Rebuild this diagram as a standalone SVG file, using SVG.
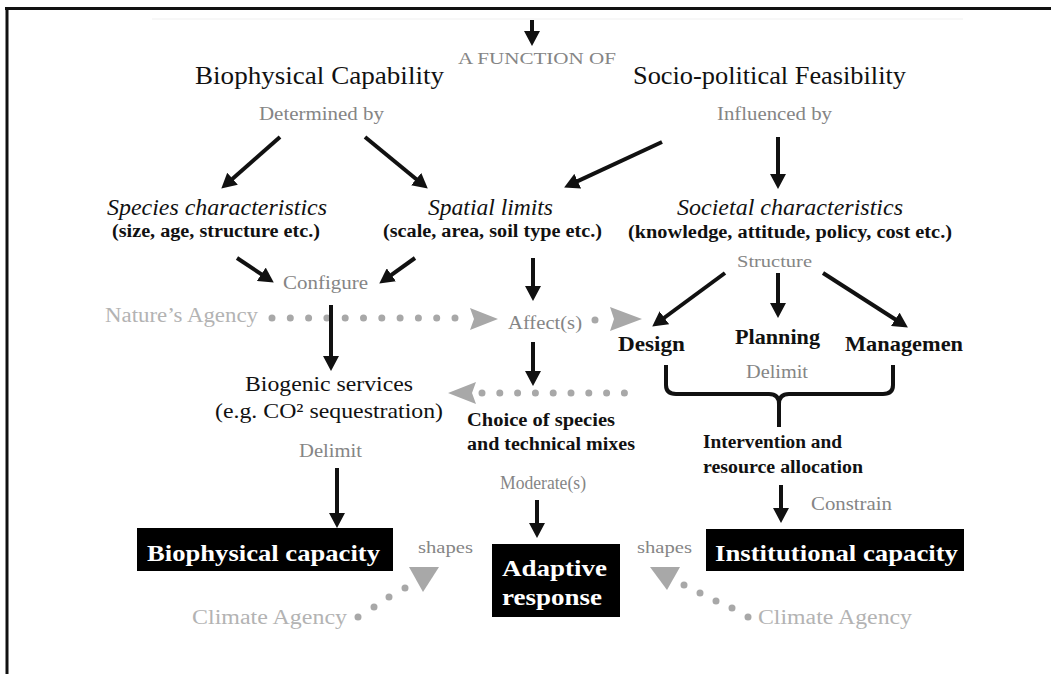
<svg xmlns="http://www.w3.org/2000/svg" width="1051" height="674" viewBox="0 0 1051 674">
<style>
text{font-family:"Liberation Serif","Times New Roman",serif;}
.t{fill:#111;}
.b{font-weight:bold;fill:#111;}
.i{font-style:italic;fill:#111;}
.g{fill:#858585;}
.lg{fill:#b3b3b3;}
.w{font-weight:bold;fill:#fff;}
.c{text-anchor:middle;}
.arr{stroke:#111;stroke-width:4;fill:none;marker-end:url(#ah);}
.dots{stroke:#a8a8a8;stroke-width:7;stroke-linecap:round;fill:none;}
.gh{fill:#a8a8a8;}
.dot{fill:#a8a8a8;}
.box{fill:#000;}
</style>
<defs>
<marker id="ah" markerUnits="userSpaceOnUse" markerWidth="15" markerHeight="16" refX="3" refY="8" orient="auto">
<path d="M0,0 L15,8 L0,16 z" fill="#111"/>
</marker>
</defs>
<rect width="1051" height="674" fill="#fff"/>
<path d="M5,8.5 H1051 M7,8 V674" stroke="#111" stroke-width="3" fill="none"/>
<path d="M152,19 H963" stroke="#efefef" stroke-width="1"/>

<g id="connectors">
<line class="arr" x1="532" y1="20" x2="532" y2="34"/>
<line class="arr" x1="280" y1="137" x2="230.3" y2="180.7"/>
<line class="arr" x1="365" y1="137" x2="418.5" y2="181"/>
<line class="arr" x1="662" y1="142" x2="575" y2="182.4"/>
<line class="arr" x1="778" y1="137" x2="778" y2="177"/>
<line class="arr" x1="237" y1="258" x2="263.8" y2="275.9"/>
<line class="arr" x1="415" y1="258" x2="389" y2="276.6"/>
<line class="arr" x1="533" y1="258" x2="533" y2="289"/>
<line class="dots" x1="272" y1="318" x2="455" y2="318" stroke-dasharray="0 18.3"/>
<polygon class="gh" points="470,308 498,319 470,330 474,319"/>
<line class="arr" x1="331" y1="305" x2="331" y2="359"/>
<circle class="dot" cx="595" cy="320" r="3.5"/>
<polygon class="gh" points="610,307 642,319 610,331 614,319"/>
<line class="arr" x1="533" y1="342" x2="533" y2="374"/>
<line class="arr" x1="725" y1="273" x2="661.9" y2="319.5"/>
<line class="arr" x1="778" y1="273" x2="778" y2="306"/>
<line class="arr" x1="823" y1="273" x2="897.8" y2="321"/>
<path d="M666,365 L666,385 Q666,394 676,394 L769,394 Q779,394 779,404 L779,427 M779,404 Q779,394 789,394 L883,394 Q893,394 893,385 L893,365" stroke="#111" stroke-width="4" fill="none"/>
<line class="dots" x1="482" y1="393" x2="642" y2="393" stroke-dasharray="0 17.8"/>
<polygon class="gh" points="476,382 448,393 476,404 472,393"/>
<line class="arr" x1="337" y1="468" x2="337" y2="516"/>
<line class="arr" x1="537" y1="500" x2="537" y2="526"/>
<line class="arr" x1="781" y1="485" x2="781" y2="511"/>
<circle class="dot" cx="358" cy="617" r="3.5"/>
<circle class="dot" cx="374" cy="607" r="3.5"/>
<circle class="dot" cx="389" cy="597" r="3.5"/>
<circle class="dot" cx="405" cy="588" r="3.5"/>
<polygon class="gh" points="409,567 439,567 423,592"/>
<circle class="dot" cx="684" cy="585" r="3.5"/>
<circle class="dot" cx="700" cy="593" r="3.5"/>
<circle class="dot" cx="716" cy="601" r="3.5"/>
<circle class="dot" cx="732" cy="608" r="3.5"/>
<circle class="dot" cx="748" cy="617" r="3.5"/>
<polygon class="gh" points="650,567 680,567 667,590"/>
</g>

<g id="function-of"><text class="g c" x="537" y="64" font-size="17" textLength="158" lengthAdjust="spacingAndGlyphs">A FUNCTION OF</text></g>
<g id="biophysical-capability">
<text class="t c" x="319.5" y="84" font-size="26" textLength="249" lengthAdjust="spacingAndGlyphs">Biophysical Capability</text>
<text class="g c" x="321.5" y="120" font-size="18" textLength="125" lengthAdjust="spacingAndGlyphs">Determined by</text>
</g>
<g id="sociopolitical-feasibility">
<text class="t c" x="769.5" y="84" font-size="26" textLength="273" lengthAdjust="spacingAndGlyphs">Socio-political Feasibility</text>
<text class="g c" x="774.5" y="120" font-size="18" textLength="115" lengthAdjust="spacingAndGlyphs">Influenced by</text>
</g>
<g id="species">
<text class="i c" x="217" y="215" font-size="23" textLength="220" lengthAdjust="spacingAndGlyphs">Species characteristics</text>
<text class="b c" x="216" y="237" font-size="18" textLength="208" lengthAdjust="spacingAndGlyphs">(size, age, structure etc.)</text>
</g>
<g id="spatial">
<text class="i c" x="490.5" y="215" font-size="23" textLength="125" lengthAdjust="spacingAndGlyphs">Spatial limits</text>
<text class="b c" x="492.5" y="237" font-size="18" textLength="219" lengthAdjust="spacingAndGlyphs">(scale, area, soil type etc.)</text>
</g>
<g id="societal">
<text class="i c" x="790" y="215" font-size="23" textLength="226" lengthAdjust="spacingAndGlyphs">Societal characteristics</text>
<text class="b c" x="790" y="238" font-size="18" textLength="324" lengthAdjust="spacingAndGlyphs">(knowledge, attitude, policy, cost etc.)</text>
<text class="g c" x="774.5" y="267" font-size="17" textLength="75" lengthAdjust="spacingAndGlyphs">Structure</text>
</g>
<g id="configure"><text class="g c" x="325.5" y="289" font-size="18" textLength="85" lengthAdjust="spacingAndGlyphs">Configure</text></g>
<g id="natures-agency"><text class="lg c" x="181.5" y="322" font-size="20" textLength="153" lengthAdjust="spacingAndGlyphs">Nature’s Agency</text></g>
<g id="affects"><text class="g c" x="545" y="329" font-size="18" textLength="74" lengthAdjust="spacingAndGlyphs">Affect(s)</text></g>
<g id="design"><text class="b" x="618" y="351" font-size="21" textLength="67" lengthAdjust="spacingAndGlyphs">Design</text></g>
<g id="planning">
<text class="b" x="735" y="344" font-size="21" textLength="85" lengthAdjust="spacingAndGlyphs">Planning</text>
<text class="g c" x="777" y="378" font-size="18" textLength="62" lengthAdjust="spacingAndGlyphs">Delimit</text>
</g>
<g id="management"><text class="b" x="845" y="351" font-size="21" textLength="118" lengthAdjust="spacingAndGlyphs">Managemen</text></g>
<g id="biogenic">
<text class="t c" x="329" y="391" font-size="22" textLength="168" lengthAdjust="spacingAndGlyphs">Biogenic services</text>
<text class="t c" x="329" y="418" font-size="22" textLength="228" lengthAdjust="spacingAndGlyphs">(e.g. CO² sequestration)</text>
<text class="g c" x="330.5" y="457" font-size="18" textLength="63" lengthAdjust="spacingAndGlyphs">Delimit</text>
</g>
<g id="choice">
<text class="b" x="467" y="426" font-size="18" textLength="148" lengthAdjust="spacingAndGlyphs">Choice of species</text>
<text class="b" x="467" y="450" font-size="18" textLength="168" lengthAdjust="spacingAndGlyphs">and technical mixes</text>
<text class="g c" x="543" y="489" font-size="18" textLength="86" lengthAdjust="spacingAndGlyphs">Moderate(s)</text>
</g>
<g id="intervention">
<text class="b" x="703" y="448" font-size="18" textLength="139" lengthAdjust="spacingAndGlyphs">Intervention and</text>
<text class="b" x="703" y="473" font-size="18" textLength="160" lengthAdjust="spacingAndGlyphs">resource allocation</text>
<text class="g" x="811" y="510" font-size="18" textLength="81" lengthAdjust="spacingAndGlyphs">Constrain</text>
</g>
<g id="biophysical-capacity">
<rect class="box" x="137" y="528" width="256" height="43"/>
<text class="w" x="147" y="561" font-size="23" textLength="233" lengthAdjust="spacingAndGlyphs">Biophysical capacity</text>
</g>
<g id="adaptive-response">
<rect class="box" x="492" y="544" width="128" height="73"/>
<text class="w c" x="554.5" y="576" font-size="23" textLength="105" lengthAdjust="spacingAndGlyphs">Adaptive</text>
<text class="w c" x="552" y="605" font-size="23" textLength="100" lengthAdjust="spacingAndGlyphs">response</text>
</g>
<g id="institutional-capacity">
<rect class="box" x="706" y="529" width="258" height="42"/>
<text class="w" x="715" y="561" font-size="23" textLength="243" lengthAdjust="spacingAndGlyphs">Institutional capacity</text>
</g>
<g id="shapes-left"><text class="g" x="418" y="553" font-size="17" textLength="55" lengthAdjust="spacingAndGlyphs">shapes</text></g>
<g id="shapes-right"><text class="g" x="637" y="553" font-size="17" textLength="55" lengthAdjust="spacingAndGlyphs">shapes</text></g>
<g id="climate-left"><text class="lg" x="192" y="624" font-size="20" textLength="155" lengthAdjust="spacingAndGlyphs">Climate Agency</text></g>
<g id="climate-right"><text class="lg" x="758" y="624" font-size="20" textLength="154" lengthAdjust="spacingAndGlyphs">Climate Agency</text></g>
</svg>
